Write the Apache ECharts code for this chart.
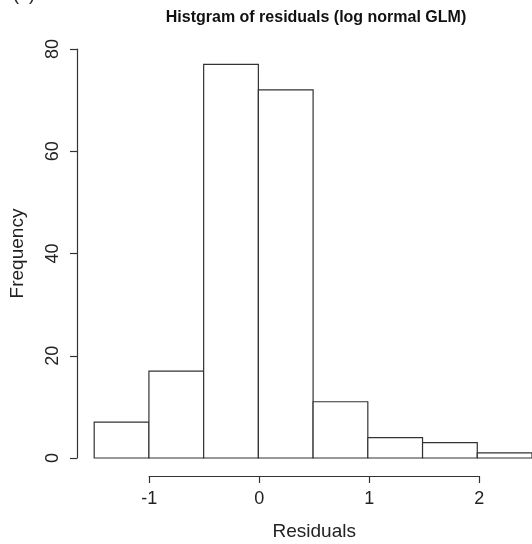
<!DOCTYPE html>
<html>
<head>
<meta charset="utf-8">
<style>html,body{margin:0;padding:0;background:#fff;}#c{width:532px;height:544px;}</style>
<script src="https://cdn.jsdelivr.net/npm/echarts@6/dist/echarts.min.js"></script>
</head>
<body>
<div id="c"></div>
<script>
var binStarts = [-1.5, -1, -0.5, 0, 0.5, 1, 1.5, 2];
var binEnds   = [-1, -0.5, 0, 0.5, 1, 1.5, 2, 2.5];
var counts    = [7, 17, 77, 72, 11, 4, 3, 1];
var xTicks = [-1, 0, 1, 2];
var yTicks = [0, 20, 40, 60, 80];
var titleText = 'Histgram of residuals (log normal GLM)';
var xName = 'Residuals';
var yName = 'Frequency';

var FONT = '"Liberation Sans", Arial, sans-serif';
var LINE = '#333';
var chart = echarts.init(document.getElementById('c'), null, {renderer: 'canvas'});

var barData = binStarts.map(function (s, i) { return [s, binEnds[i], counts[i]]; });

chart.setOption({
  animation: false,
  backgroundColor: '#fff',
  title: {
    text: titleText,
    left: 311, top: 5, textAlign: 'center',
    textStyle: {fontFamily: FONT, fontSize: 16, fontWeight: 'bold', color: '#111'}
  },
  graphic: [{
    type: 'text', left: 13, top: -14,
    style: {text: '(a)', font: '18px ' + FONT, fill: '#222'}
  }],
  grid: [
    {left: 94.2, width: 440, top: 49, height: 409},
    {left: 149.2, width: 330, top: 457, height: 1}
  ],
  xAxis: [
    {gridIndex: 0, type: 'value', min: binStarts[0], max: binEnds[binEnds.length - 1],
     show: false},
    {gridIndex: 1, type: 'value', min: xTicks[0], max: xTicks[xTicks.length - 1], interval: 1,
     position: 'bottom', offset: 18,
     name: xName, nameLocation: 'middle', nameGap: 46,
     nameTextStyle: {fontFamily: FONT, fontSize: 19, color: '#222'},
     axisLine: {show: true, onZero: false, lineStyle: {color: LINE, width: 1.2}},
     axisTick: {show: true, length: 7, lineStyle: {color: LINE, width: 1.2}},
     axisLabel: {fontFamily: FONT, fontSize: 18, color: '#222', margin: 14,
       formatter: function (v) { return xTicks.indexOf(v) >= 0 ? String(v) : ''; }},
     splitLine: {show: false}}
  ],
  yAxis: [
    {gridIndex: 0, type: 'value', min: yTicks[0], max: yTicks[yTicks.length - 1], interval: 20,
     position: 'left', offset: 17.2,
     name: yName, nameLocation: 'middle', nameGap: 50,
     nameTextStyle: {fontFamily: FONT, fontSize: 19, color: '#222'},
     axisLine: {show: true, onZero: false, lineStyle: {color: LINE, width: 1.2}},
     axisTick: {show: true, length: 7, lineStyle: {color: LINE, width: 1.2}},
     axisLabel: {fontFamily: FONT, fontSize: 18, color: '#222', margin: 15, rotate: 90},
     splitLine: {show: false}},
    {gridIndex: 1, type: 'value', show: false, min: 0, max: 1}
  ],
  series: [{
    type: 'custom',
    xAxisIndex: 0, yAxisIndex: 0,
    data: barData,
    encode: {x: [0, 1], y: 2},
    clip: false,
    renderItem: function (params, api) {
      var p0 = api.coord([api.value(0), api.value(2)]);
      var p1 = api.coord([api.value(1), 0]);
      return {
        type: 'rect',
        shape: {x: p0[0], y: p0[1], width: p1[0] - p0[0], height: p1[1] - p0[1]},
        style: {fill: '#fff', stroke: LINE, lineWidth: 1.2}
      };
    }
  }]
});
</script>
</body>
</html>
